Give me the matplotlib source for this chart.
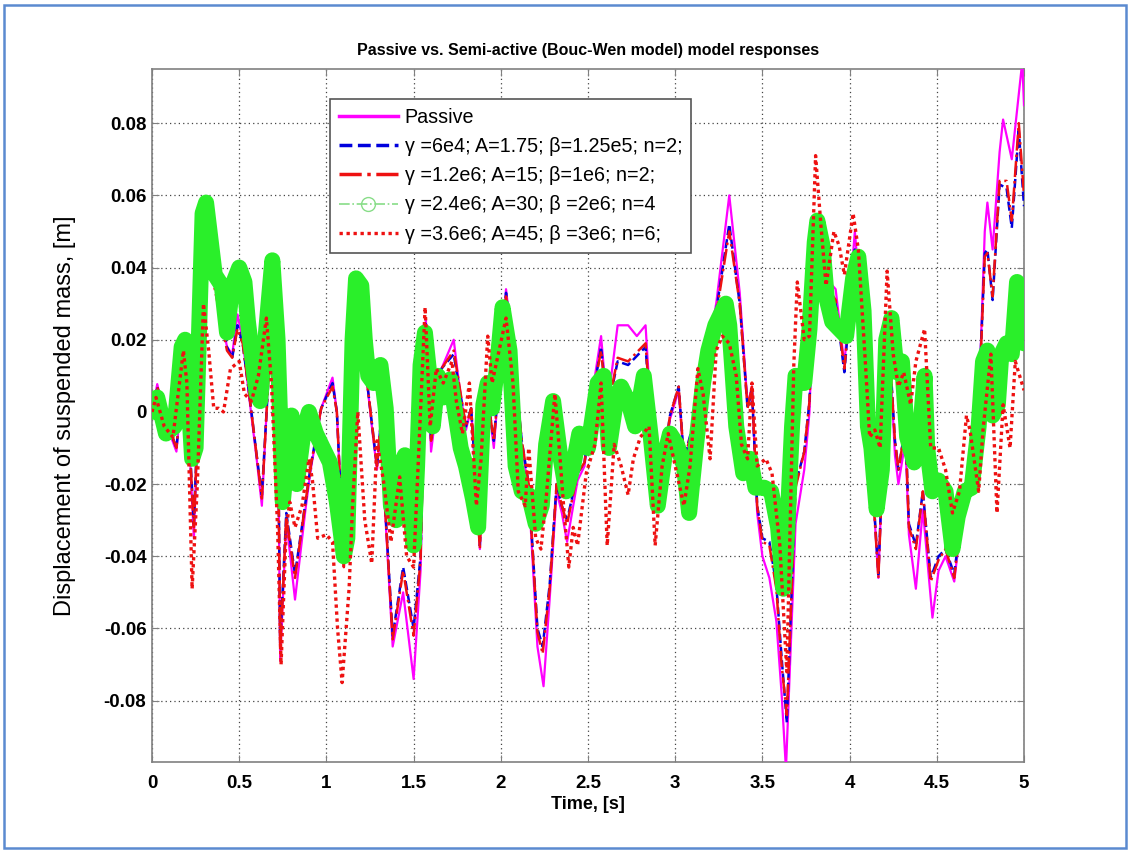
import matplotlib
matplotlib.use("Agg")
import matplotlib.pyplot as plt
from matplotlib.lines import Line2D
from matplotlib.patches import Rectangle

plt.rcParams['font.family'] = ['Liberation Sans', 'DejaVu Sans']

# --- data (time [s], displacement [m]) ---
passive_t = [0.00, 0.03, 0.08, 0.14, 0.19, 0.24, 0.30, 0.36, 0.43, 0.46, 0.49, 0.52, 0.56, 0.60,
             0.63, 0.665, 0.69, 0.72, 0.735, 0.77, 0.82, 0.88, 0.91, 0.97, 1.035, 1.06, 1.10,
             1.17, 1.21, 1.27, 1.29, 1.31, 1.38, 1.44, 1.50, 1.54, 1.57, 1.60, 1.66, 1.73, 1.76,
             1.80, 1.83, 1.88, 1.915, 1.96, 2.03, 2.07, 2.12, 2.16, 2.21, 2.245, 2.28, 2.32,
             2.35, 2.38, 2.44, 2.48, 2.54, 2.575, 2.61, 2.67, 2.73, 2.78, 2.83, 2.88, 2.915,
             2.97, 3.02, 3.05, 3.10, 3.16, 3.235, 3.31, 3.37, 3.415, 3.44, 3.47, 3.50, 3.54,
             3.58, 3.61, 3.635, 3.69, 3.74, 3.77, 3.80, 3.82, 3.865, 3.92, 3.97, 4.03, 4.09,
             4.135, 4.165, 4.22, 4.26, 4.28, 4.32, 4.34, 4.38, 4.42, 4.475, 4.51, 4.55, 4.60,
             4.65, 4.69, 4.75, 4.775, 4.79, 4.82, 4.86, 4.88, 4.93, 4.99, 5.00]
passive_v = [0.000, 0.0077, -0.003, -0.011, 0.016, -0.035, 0.050, 0.036, 0.018, 0.016, 0.027,
             0.020, 0.003, -0.013, -0.026, 0.008, 0.036, 0.010, -0.069, -0.030, -0.052, -0.027,
             -0.016, 0.001, 0.0095, 0.000, -0.043, 0.036, 0.018, -0.008, -0.016, -0.005, -0.065,
             -0.050, -0.074, -0.044, 0.026, -0.011, 0.012, 0.020, 0.008, -0.005, 0.001, -0.038,
             0.008, -0.010, 0.034, 0.017, -0.009, -0.022, -0.065, -0.076, -0.052, -0.022,
             -0.028, -0.036, -0.019, -0.015, 0.010, 0.021, 0.001, 0.024, 0.024, 0.021, 0.024,
             -0.016, -0.022, -0.002, 0.006, -0.014, -0.006, 0.010, 0.030, 0.060, 0.033, 0.002,
             0.007, -0.028, -0.040, -0.046, -0.058, -0.078, -0.099, -0.031, -0.016, 0.000,
             0.044, 0.052, 0.037, 0.034, 0.013, 0.050, 0.015, -0.023, -0.046, 0.026, -0.012,
             -0.020, -0.008, -0.034, -0.049, -0.027, -0.057, -0.044, -0.040, -0.047, -0.026,
             -0.021, 0.015, 0.050, 0.058, 0.045, 0.072, 0.081, 0.070, 0.097, 0.085]

sa1_t = [0.00, 0.03, 0.08, 0.14, 0.19, 0.24, 0.30, 0.36, 0.43, 0.46, 0.49, 0.52, 0.56, 0.60,
         0.63, 0.665, 0.69, 0.72, 0.735, 0.77, 0.82, 0.88, 0.91, 0.97, 1.035, 1.06, 1.10,
         1.17, 1.21, 1.27, 1.29, 1.31, 1.38, 1.44, 1.50, 1.54, 1.57, 1.60, 1.66, 1.73, 1.76,
         1.80, 1.83, 1.88, 1.915, 1.96, 2.03, 2.07, 2.12, 2.16, 2.21, 2.24, 2.28, 2.32,
         2.35, 2.38, 2.44, 2.48, 2.54, 2.575, 2.61, 2.67, 2.73, 2.83, 2.88, 2.915, 2.97,
         3.02, 3.05, 3.10, 3.16, 3.235, 3.31, 3.37, 3.415, 3.44, 3.47, 3.50, 3.54, 3.58,
         3.61, 3.64, 3.69, 3.74, 3.77, 3.80, 3.82, 3.865, 3.92, 3.97, 4.03, 4.09, 4.135,
         4.165, 4.22, 4.26, 4.28, 4.32, 4.34, 4.38, 4.42, 4.465, 4.51, 4.55, 4.60, 4.65,
         4.69, 4.75, 4.775, 4.79, 4.82, 4.86, 4.90, 4.93, 4.97, 5.00]
sa1_v = [0.000, 0.007, -0.002, -0.010, 0.015, -0.031, 0.048, 0.035, 0.018, 0.015, 0.024,
         0.019, 0.004, -0.012, -0.023, 0.007, 0.035, 0.010, -0.064, -0.028, -0.045, -0.025,
         -0.015, 0.001, 0.008, 0.000, -0.042, 0.035, 0.018, -0.007, -0.015, -0.004, -0.062,
         -0.043, -0.060, -0.040, 0.025, -0.008, 0.012, 0.016, 0.007, -0.004, 0.001, -0.037,
         0.007, -0.008, 0.033, 0.017, -0.008, -0.020, -0.060, -0.065, -0.048, -0.020,
         -0.026, -0.030, -0.017, -0.014, 0.008, 0.018, 0.000, 0.014, 0.013, 0.018, -0.015,
         -0.020, -0.001, 0.007, -0.013, -0.004, 0.010, 0.028, 0.052, 0.030, 0.001, 0.006,
         -0.026, -0.035, -0.036, -0.048, -0.068, -0.086, -0.020, -0.011, 0.003, 0.044,
         0.051, 0.035, 0.030, 0.011, 0.045, 0.014, -0.022, -0.045, 0.025, -0.008, -0.016,
         -0.004, -0.031, -0.037, -0.022, -0.046, -0.040, -0.038, -0.045, -0.025, -0.019,
         0.014, 0.044, 0.045, 0.031, 0.063, 0.062, 0.051, 0.078, 0.057]

sa2_t = [0.00, 0.03, 0.08, 0.14, 0.19, 0.24, 0.30, 0.36, 0.43, 0.46, 0.49, 0.52, 0.56, 0.60,
         0.63, 0.665, 0.69, 0.72, 0.735, 0.77, 0.82, 0.88, 0.91, 0.97, 1.035, 1.06, 1.10,
         1.17, 1.21, 1.27, 1.29, 1.31, 1.38, 1.44, 1.50, 1.54, 1.57, 1.60, 1.66, 1.73, 1.76,
         1.80, 1.83, 1.88, 1.915, 1.96, 2.03, 2.07, 2.12, 2.16, 2.21, 2.24, 2.28, 2.32,
         2.35, 2.38, 2.44, 2.48, 2.54, 2.575, 2.61, 2.67, 2.73, 2.83, 2.88, 2.915, 2.97,
         3.02, 3.05, 3.10, 3.16, 3.235, 3.31, 3.37, 3.415, 3.44, 3.47, 3.50, 3.54, 3.58,
         3.61, 3.64, 3.69, 3.74, 3.77, 3.80, 3.82, 3.865, 3.92, 3.97, 4.03, 4.09, 4.135,
         4.165, 4.22, 4.26, 4.28, 4.32, 4.34, 4.38, 4.42, 4.465, 4.51, 4.55, 4.60, 4.65,
         4.69, 4.75, 4.775, 4.79, 4.82, 4.86, 4.90, 4.93, 4.97, 5.00]
sa2_v = [0.000, 0.007, -0.002, -0.010, 0.015, -0.032, 0.047, 0.034, 0.017, 0.015, 0.023,
         0.019, 0.004, -0.012, -0.024, 0.007, 0.034, 0.010, -0.066, -0.029, -0.046, -0.025,
         -0.015, 0.001, 0.007, 0.000, -0.043, 0.034, 0.018, -0.007, -0.015, -0.004, -0.063,
         -0.044, -0.062, -0.041, 0.024, -0.008, 0.012, 0.017, 0.008, -0.004, 0.001, -0.038,
         0.007, -0.008, 0.032, 0.017, -0.008, -0.020, -0.061, -0.067, -0.049, -0.020,
         -0.026, -0.031, -0.017, -0.014, 0.008, 0.017, 0.000, 0.015, 0.014, 0.019, -0.015,
         -0.021, -0.001, 0.007, -0.013, -0.005, 0.010, 0.027, 0.050, 0.030, 0.001, 0.007,
         -0.026, -0.036, -0.037, -0.049, -0.070, -0.084, -0.021, -0.011, 0.003, 0.043,
         0.050, 0.035, 0.031, 0.012, 0.044, 0.014, -0.023, -0.046, 0.024, -0.008, -0.016,
         -0.004, -0.032, -0.038, -0.022, -0.047, -0.041, -0.038, -0.046, -0.025, -0.019,
         0.013, 0.043, 0.044, 0.032, 0.064, 0.064, 0.053, 0.080, 0.060]

sa3_t = [0.00, 0.03, 0.08, 0.13, 0.17, 0.19, 0.23, 0.25, 0.29, 0.31, 0.33, 0.36, 0.40, 0.43,
         0.46, 0.50, 0.53, 0.55, 0.60, 0.62, 0.65, 0.69, 0.72, 0.75, 0.78, 0.80, 0.83, 0.87,
         0.90, 0.94, 0.98, 1.02, 1.06, 1.10, 1.12, 1.15, 1.17, 1.20, 1.22, 1.24, 1.27, 1.31,
         1.34, 1.37, 1.40, 1.425, 1.45, 1.50, 1.52, 1.54, 1.565, 1.595, 1.61, 1.64, 1.67,
         1.71, 1.735, 1.77, 1.80, 1.84, 1.87, 1.90, 1.925, 1.95, 1.98, 2.01, 2.05, 2.085,
         2.12, 2.16, 2.20, 2.235, 2.26, 2.30, 2.34, 2.375, 2.415, 2.45, 2.50, 2.555, 2.59,
         2.62, 2.66, 2.69, 2.73, 2.77, 2.82, 2.86, 2.90, 2.94, 2.97, 3.01, 3.05, 3.08, 3.12,
         3.16, 3.19, 3.23, 3.29, 3.31, 3.35, 3.39, 3.43, 3.46, 3.51, 3.55, 3.59, 3.62, 3.64,
         3.67, 3.69, 3.74, 3.77, 3.80, 3.815, 3.845, 3.87, 3.90, 3.94, 3.98, 4.02, 4.05,
         4.08, 4.105, 4.125, 4.155, 4.185, 4.21, 4.24, 4.27, 4.30, 4.33, 4.37, 4.40, 4.43,
         4.445, 4.475, 4.51, 4.55, 4.59, 4.62, 4.66, 4.70, 4.74, 4.765, 4.79, 4.82, 4.85,
         4.87, 4.90, 4.93, 4.96, 4.985, 5.00]
sa3_v = [0.000, 0.004, -0.006, -0.004, 0.018, 0.020, -0.013, -0.010, 0.055, 0.058, 0.050,
         0.038, 0.035, 0.022, 0.035, 0.040, 0.036, 0.025, 0.005, 0.003, 0.020, 0.042, 0.020,
         -0.025, -0.010, -0.001, -0.020, -0.005, 0.000, -0.006, -0.010, -0.014, -0.025,
         -0.040, -0.035, 0.020, 0.037, 0.035, 0.020, 0.010, 0.008, 0.013, 0.001, -0.026,
         -0.030, -0.015, -0.012, -0.037, -0.015, 0.013, 0.022, 0.008, -0.004, 0.010, 0.004,
         0.009, 0.001, -0.010, -0.015, -0.024, -0.032, 0.002, 0.008, 0.001, 0.013, 0.029,
         0.017, -0.015, -0.022, -0.023, -0.031, -0.026, -0.009, 0.003, -0.012, -0.022,
         -0.015, -0.006, -0.010, 0.008, 0.010, -0.010, 0.003, 0.007, 0.003, -0.004, 0.010,
         -0.007, -0.026, -0.012, -0.006, -0.009, -0.015, -0.028, -0.009, 0.008, 0.017,
         0.024, 0.030, 0.024, -0.004, -0.017, -0.013, -0.021, -0.021, -0.022, -0.032,
         -0.049, -0.035, -0.004, 0.010, 0.008, 0.023, 0.047, 0.053, 0.046, 0.031, 0.025,
         0.023, 0.021, 0.037, 0.043, 0.028, -0.004, -0.010, -0.027, -0.016, 0.020, 0.026,
         0.011, 0.014, -0.007, -0.014, -0.008, 0.010, -0.010, -0.022, -0.019, -0.022,
         -0.038, -0.029, -0.022, -0.021, -0.004, 0.014, 0.017, -0.001, 0.002, 0.016, 0.019,
         0.016, 0.036, 0.030, 0.019]

sa4_t = [0.00, 0.023, 0.07, 0.12, 0.18, 0.20, 0.23, 0.26, 0.295, 0.325, 0.354, 0.383, 0.41,
         0.45, 0.50, 0.53, 0.57, 0.61, 0.656, 0.685, 0.72, 0.74, 0.77, 0.79, 0.82, 0.86,
         0.90, 0.92, 0.95, 1.00, 1.035, 1.064, 1.09, 1.13, 1.15, 1.18, 1.22, 1.26, 1.29,
         1.33, 1.37, 1.42, 1.46, 1.50, 1.566, 1.595, 1.63, 1.67, 1.72, 1.745, 1.78, 1.82,
         1.86, 1.887, 1.925, 1.95, 1.99, 2.03, 2.07, 2.10, 2.14, 2.16, 2.20, 2.23, 2.26,
         2.31, 2.34, 2.36, 2.39, 2.415, 2.44, 2.49, 2.54, 2.575, 2.61, 2.65, 2.69, 2.73,
         2.76, 2.80, 2.85, 2.885, 2.925, 2.96, 3.00, 3.05, 3.085, 3.13, 3.16, 3.20, 3.235,
         3.27, 3.31, 3.35, 3.38, 3.415, 3.44, 3.47, 3.52, 3.555, 3.60, 3.64, 3.68, 3.70,
         3.74, 3.77, 3.805, 3.835, 3.865, 3.91, 3.94, 3.97, 4.02, 4.05, 4.09, 4.115, 4.145,
         4.175, 4.215, 4.25, 4.28, 4.31, 4.35, 4.38, 4.43, 4.465, 4.51, 4.55, 4.59, 4.63,
         4.67, 4.69, 4.74, 4.765, 4.81, 4.845, 4.88, 4.92, 4.95, 5.00]
sa4_v = [0.000, 0.004, -0.004, -0.007, 0.017, 0.008, -0.049, -0.020, 0.030, 0.017, 0.001,
         0.001, 0.000, 0.012, 0.014, 0.005, 0.003, 0.010, 0.026, 0.008, -0.032, -0.070,
         -0.032, -0.025, -0.032, -0.026, -0.013, -0.019, -0.035, -0.034, -0.036, -0.060,
         -0.075, -0.049, -0.026, 0.000, -0.030, -0.042, -0.008, -0.020, -0.036, -0.018,
         -0.040, -0.043, 0.029, -0.004, 0.012, 0.008, 0.014, 0.003, -0.006, 0.008, -0.026,
         -0.013, 0.021, 0.008, 0.017, 0.026, 0.008, -0.022, -0.026, -0.010, -0.035, -0.038,
         -0.024, 0.005, -0.013, -0.026, -0.043, -0.032, -0.037, -0.017, -0.009, 0.008,
         -0.037, -0.009, -0.015, -0.023, -0.013, -0.007, -0.004, -0.037, -0.015, -0.006,
         -0.015, -0.026, -0.015, 0.012, 0.005, -0.013, 0.017, 0.021, 0.019, 0.010, -0.009,
         -0.013, 0.008, -0.015, -0.013, -0.017, -0.037, -0.072, 0.013, 0.036, 0.020, 0.021,
         0.071, 0.052, 0.035, 0.050, 0.046, 0.038, 0.055, 0.045, 0.014, -0.007, -0.005,
         -0.010, 0.039, 0.016, 0.007, 0.011, 0.002, 0.014, 0.023, -0.010, -0.010, -0.016,
         -0.028, -0.022, -0.001, -0.005, -0.022, -0.005, 0.016, -0.028, 0.002, -0.010,
         0.014, 0.006]

labels = ["Passive",
          "\u03b3 =6e4; A=1.75; \u03b2=1.25e5; n=2;",
          "\u03b3 =1.2e6; A=15; \u03b2=1e6; n=2;",
          "\u03b3 =2.4e6; A=30; \u03b2 =2e6; n=4",
          "\u03b3 =3.6e6; A=45; \u03b2 =3e6; n=6;"]

x_ticks = [0, 0.5, 1, 1.5, 2, 2.5, 3, 3.5, 4, 4.5, 5]
x_ticklabels = ["0", "0.5", "1", "1.5", "2", "2.5", "3", "3.5", "4", "4.5", "5"]
y_ticks = [-0.08, -0.06, -0.04, -0.02, 0, 0.02, 0.04, 0.06, 0.08]
y_ticklabels = ["-0.08", "-0.06", "-0.04", "-0.02", "0", "0.02", "0.04", "0.06", "0.08"]

GREEN = '#2aef2a'

fig = plt.figure(figsize=(11.31, 8.52), dpi=100)
ax = fig.add_axes([0.1344, 0.1056, 0.771, 0.8134])

ax.plot(passive_t, passive_v, color='#ff00ff', lw=1.6, zorder=3)
ax.plot(sa1_t, sa1_v, color='#0000dd', lw=1.8, ls='--', zorder=4)
ax.plot(sa2_t, sa2_v, color='#ee1111', lw=1.8, ls='-.', zorder=5)
ax.plot(sa3_t, sa3_v, color=GREEN, lw=11.5, solid_capstyle='round',
        solid_joinstyle='round', zorder=6)
ax.plot(sa4_t, sa4_v, color='#ee1111', lw=2.4, ls=(0, (1, 1.1)), zorder=7)

ax.set_xlim(0, 5)
ax.set_ylim(-0.097, 0.095)
ax.set_xticks(x_ticks)
ax.set_xticklabels(x_ticklabels)
ax.set_yticks(y_ticks)
ax.set_yticklabels(y_ticklabels)
ax.tick_params(direction='in', length=5, width=0.8, top=True, right=True,
               labelsize=13.5, colors='#808080', labelcolor='black')
ax.tick_params(axis='x', pad=9)
ax.tick_params(axis='y', pad=4)
for lab in ax.get_xticklabels() + ax.get_yticklabels():
    lab.set_fontweight('bold')
for sp in ax.spines.values():
    sp.set_color('#808080')
    sp.set_linewidth(1.2)
ax.grid(True, color='#444444', ls=(0, (1, 2.5)), lw=0.9)

ax.set_title("Passive vs. Semi-active (Bouc-Wen model) model responses",
             fontsize=11.5, fontweight='bold', pad=10)
ax.set_xlabel("Time, [s]", fontsize=13, fontweight='bold', labelpad=3)
ax.set_ylabel("Displacement of suspended mass, [m]", fontsize=17, labelpad=20)

handles = [Line2D([], [], color='#ff00ff', lw=2.5),
           Line2D([], [], color='#0000dd', lw=2.5, ls='--'),
           Line2D([], [], color='#ee1111', lw=2.5, ls='-.'),
           Line2D([], [], color='#88dd88', lw=1.2, ls='-.', marker='o', markersize=10,
                  markerfacecolor='none', markeredgecolor='#88dd88'),
           Line2D([], [], color='#ee1111', lw=2.4, ls=(0, (1, 1.1)))]
leg = ax.legend(handles, labels, loc='upper left', bbox_to_anchor=(0.204, 0.957),
                borderaxespad=0, fontsize=14.2, handlelength=3.0, handletextpad=0.35,
                labelspacing=0.52, borderpad=0.45, fancybox=False, framealpha=1,
                edgecolor='#555555')
leg.get_frame().set_linewidth(1.2)
leg.set_zorder(10)

# blue frame round the whole picture
fig.patches.append(Rectangle((4 / 1131, 4 / 852), 1122 / 1131, 843 / 852,
                             transform=fig.transFigure, fill=False,
                             edgecolor='#5b8ad0', lw=1.8))

fig.savefig("out.png", dpi=100)
